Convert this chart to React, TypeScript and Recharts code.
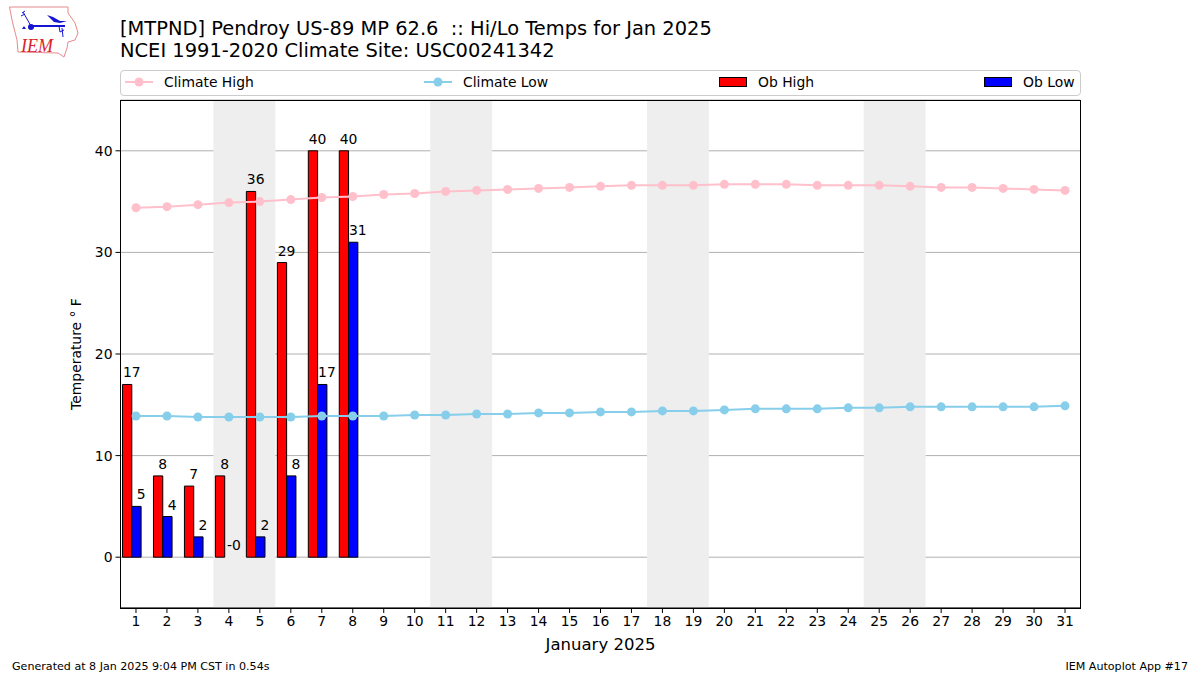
import React from 'react';
import {
  Bar,
  CartesianGrid,
  ComposedChart,
  LabelList,
  Line,
  Rectangle,
  ReferenceArea,
  XAxis,
  YAxis,
} from 'recharts';

const FONT = '"DejaVu Sans", sans-serif';

const days = Array.from({ length: 31 }, (_, i) => String(i + 1));
const obHigh = [17, 8, 7, 8, 36, 29, 40, 40];
// day 4 reads "-0" in the picture, so just under zero
const obLow = [5, 4, 2, -0.01, 2, 8, 17, 31];
const climateHigh = [
  34.4, 34.5, 34.7, 34.9, 35.0, 35.2, 35.4, 35.5, 35.7, 35.8, 36.0, 36.1, 36.2, 36.3, 36.4, 36.5,
  36.6, 36.6, 36.6, 36.7, 36.7, 36.7, 36.6, 36.6, 36.6, 36.5, 36.4, 36.4, 36.3, 36.2, 36.1,
];
const climateLow = [
  13.9, 13.9, 13.8, 13.8, 13.8, 13.8, 13.9, 13.9, 13.9, 14.0, 14.0, 14.1, 14.1, 14.2, 14.2, 14.3,
  14.3, 14.4, 14.4, 14.5, 14.6, 14.6, 14.6, 14.7, 14.7, 14.8, 14.8, 14.8, 14.8, 14.8, 14.9,
];
const weekends = [['4', '5'], ['11', '12'], ['18', '19'], ['25', '26']];
const yTicks = [0, 10, 20, 30, 40];

const data = days.map((day, i) => ({
  day,
  obHigh: obHigh[i] ?? null,
  obLow: obLow[i] ?? null,
  climateHigh: climateHigh[i],
  climateLow: climateLow[i],
}));

// matplotlib style label: sits on the right edge of the bar, Math.round keeps the minus on -0
const barLabel = (props: any) => {
  const { x, y, width, height, value } = props;
  if (value === null || value === undefined) return null;
  const rounded = Math.round(value);
  const text = Object.is(rounded, -0) ? '-0' : String(rounded);
  return (
    <text x={x + width} y={Math.min(y, y + height) - 7} textAnchor="middle" fontSize={13.9} fontFamily={FONT} fill="#000">
      {text}
    </text>
  );
};

// a bar that rounds to nothing should not leave a black edge on the zero line
const lowBarShape = (props: any) =>
  props.payload.obLow < 0 ? <g /> : <Rectangle {...props} />;

const LineSwatch = ({ color }: { color: string }) => (
  <svg width={28} height={10} style={{ display: 'block' }}>
    <line x1={0} x2={28} y1={5} y2={5} stroke={color} strokeWidth={2} />
    <circle cx={14} cy={5} r={4.5} fill={color} />
  </svg>
);

const BarSwatch = ({ color }: { color: string }) => (
  <svg width={28} height={10} style={{ display: 'block' }}>
    <rect x={0.5} y={0.5} width={27} height={9} fill={color} stroke="#000" />
  </svg>
);

const legendItems = [
  { name: 'Climate High', left: 4, swatch: <LineSwatch color="#ffc0cb" /> },
  { name: 'Climate Low', left: 303, swatch: <LineSwatch color="#87ceeb" /> },
  { name: 'Ob High', left: 598, swatch: <BarSwatch color="#ff0000" /> },
  { name: 'Ob Low', left: 863, swatch: <BarSwatch color="#0000ff" /> },
];

const Logo = () => (
  <svg width={90} height={62} style={{ position: 'absolute', left: 0, top: 0 }}>
    <path
      d="M9.5 7 L68 7 L68 13 L75 23 L78 33 L75 40 L68 42 L67 48 L64 57 L58 53 L18 52 L17 40 L12 20 Z"
      fill="none"
      stroke="#e58a8e"
      strokeWidth={1}
    />
    <path d="M31 26 L65 26" stroke="#1414d2" strokeWidth={2} fill="none" />
    <path d="M31 26 L23 12 M22 13 L25 11 M21 16 L25 14 M59 26 L60 32 M62 28 L63 37 M60 32 L64 30" stroke="#1414d2" strokeWidth={1} fill="none" />
    <path d="M47 15 L53 17 L60 21 L67 21 L60 23 L54 22 Z" fill="#1414d2" />
    <circle cx={31} cy={27} r={3} fill="#1414d2" />
    <path d="M24 26 L26 29 L22 29 Z" fill="#1414d2" />
    <text x={21} y={52} fontFamily='"Liberation Serif", serif' fontStyle="italic" fontSize={18} fill="#d8242c">
      IEM
    </text>
  </svg>
);

export default function App() {
  return (
    <div style={{ position: 'absolute', left: 0, top: 0, width: 1200, height: 675, background: '#fff', fontFamily: FONT }}>
      <Logo />
      <div style={{ position: 'absolute', left: 120, top: 18, fontSize: 19.46, lineHeight: '22px', whiteSpace: 'pre', color: '#000' }}>
        {'[MTPND] Pendroy US-89 MP 62.6  :: Hi/Lo Temps for Jan 2025\nNCEI 1991-2020 Climate Site: USC00241342'}
      </div>

      <ComposedChart
        width={1200}
        height={675}
        data={data}
        barSize={9.3}
        barGap={0}
        barCategoryGap={4}
        margin={{ top: 100, right: 119.5, bottom: 27, left: 60.5 }}
      >
        {weekends.map(([from, to]) => (
          <ReferenceArea key={from} x1={from} x2={to} fill="#eeeeee" fillOpacity={1} stroke="none" />
        ))}
        <CartesianGrid horizontal vertical={false} stroke="#b0b0b0" strokeWidth={1} />
        <XAxis
          dataKey="day"
          interval={0}
          height={40}
          tickSize={5}
          tickMargin={3}
          padding={{ left: 0, right: 0 }}
          axisLine={{ stroke: '#000' }}
          tickLine={{ stroke: '#000' }}
          tick={{ fill: '#000', fontSize: 13.9, fontFamily: FONT }}
          label={{ value: 'January 2025', position: 'insideBottom', offset: -2, fill: '#000', fontSize: 16.5, fontFamily: FONT }}
        />
        <YAxis
          domain={[-5, 45]}
          ticks={yTicks}
          width={60}
          tickSize={5}
          tickMargin={3}
          allowDataOverflow
          axisLine={{ stroke: '#000' }}
          tickLine={{ stroke: '#000' }}
          tick={{ fill: '#000', fontSize: 13.9, fontFamily: FONT }}
          label={{ value: 'Temperature \u00b0 F', angle: -90, position: 'insideLeft', offset: 16, style: { textAnchor: 'middle' }, fill: '#000', fontSize: 13.9, fontFamily: FONT }}
        />

        <Bar dataKey="obHigh" fill="#ff0000" stroke="#000" strokeWidth={1} isAnimationActive={false}>
          <LabelList dataKey="obHigh" content={barLabel} />
        </Bar>
        <Bar dataKey="obLow" fill="#0000ff" stroke="#000" strokeWidth={1} shape={lowBarShape} isAnimationActive={false}>
          <LabelList dataKey="obLow" content={barLabel} />
        </Bar>
        {/* empty third slot, it puts the blue bar on the day tick like the original */}
        <Bar dataKey="spacer" fill="none" legendType="none" isAnimationActive={false} />

        <Line dataKey="climateHigh" stroke="#ffc0cb" strokeWidth={2} dot={{ r: 4.5, fill: '#ffc0cb', stroke: '#ffc0cb', strokeWidth: 0 }} isAnimationActive={false} />
        <Line dataKey="climateLow" stroke="#87ceeb" strokeWidth={2} dot={{ r: 4.5, fill: '#87ceeb', stroke: '#87ceeb', strokeWidth: 0 }} isAnimationActive={false} />
      </ComposedChart>

      {/* axes frame, top and right sides */}
      <div style={{ position: 'absolute', left: 120, top: 100, width: 959, height: 507, border: '1px solid #000', pointerEvents: 'none' }} />

      {/* legend */}
      <div style={{ position: 'absolute', left: 120, top: 70, width: 959, height: 24, border: '1px solid #ccc', borderRadius: 4 }}>
        {legendItems.map((item) => (
          <div key={item.name} style={{ position: 'absolute', left: item.left, top: -1, height: 24, display: 'flex', alignItems: 'center', gap: 11, fontSize: 13.9, color: '#000', whiteSpace: 'nowrap' }}>
            {item.swatch}
            <span>{item.name}</span>
          </div>
        ))}
      </div>

      <div style={{ position: 'absolute', left: 12, top: 660, fontSize: 11.1, color: '#000' }}>Generated at 8 Jan 2025 9:04 PM CST in 0.54s</div>
      <div style={{ position: 'absolute', right: 12, top: 660, fontSize: 11.1, color: '#000' }}>IEM Autoplot App #17</div>
    </div>
  );
}
